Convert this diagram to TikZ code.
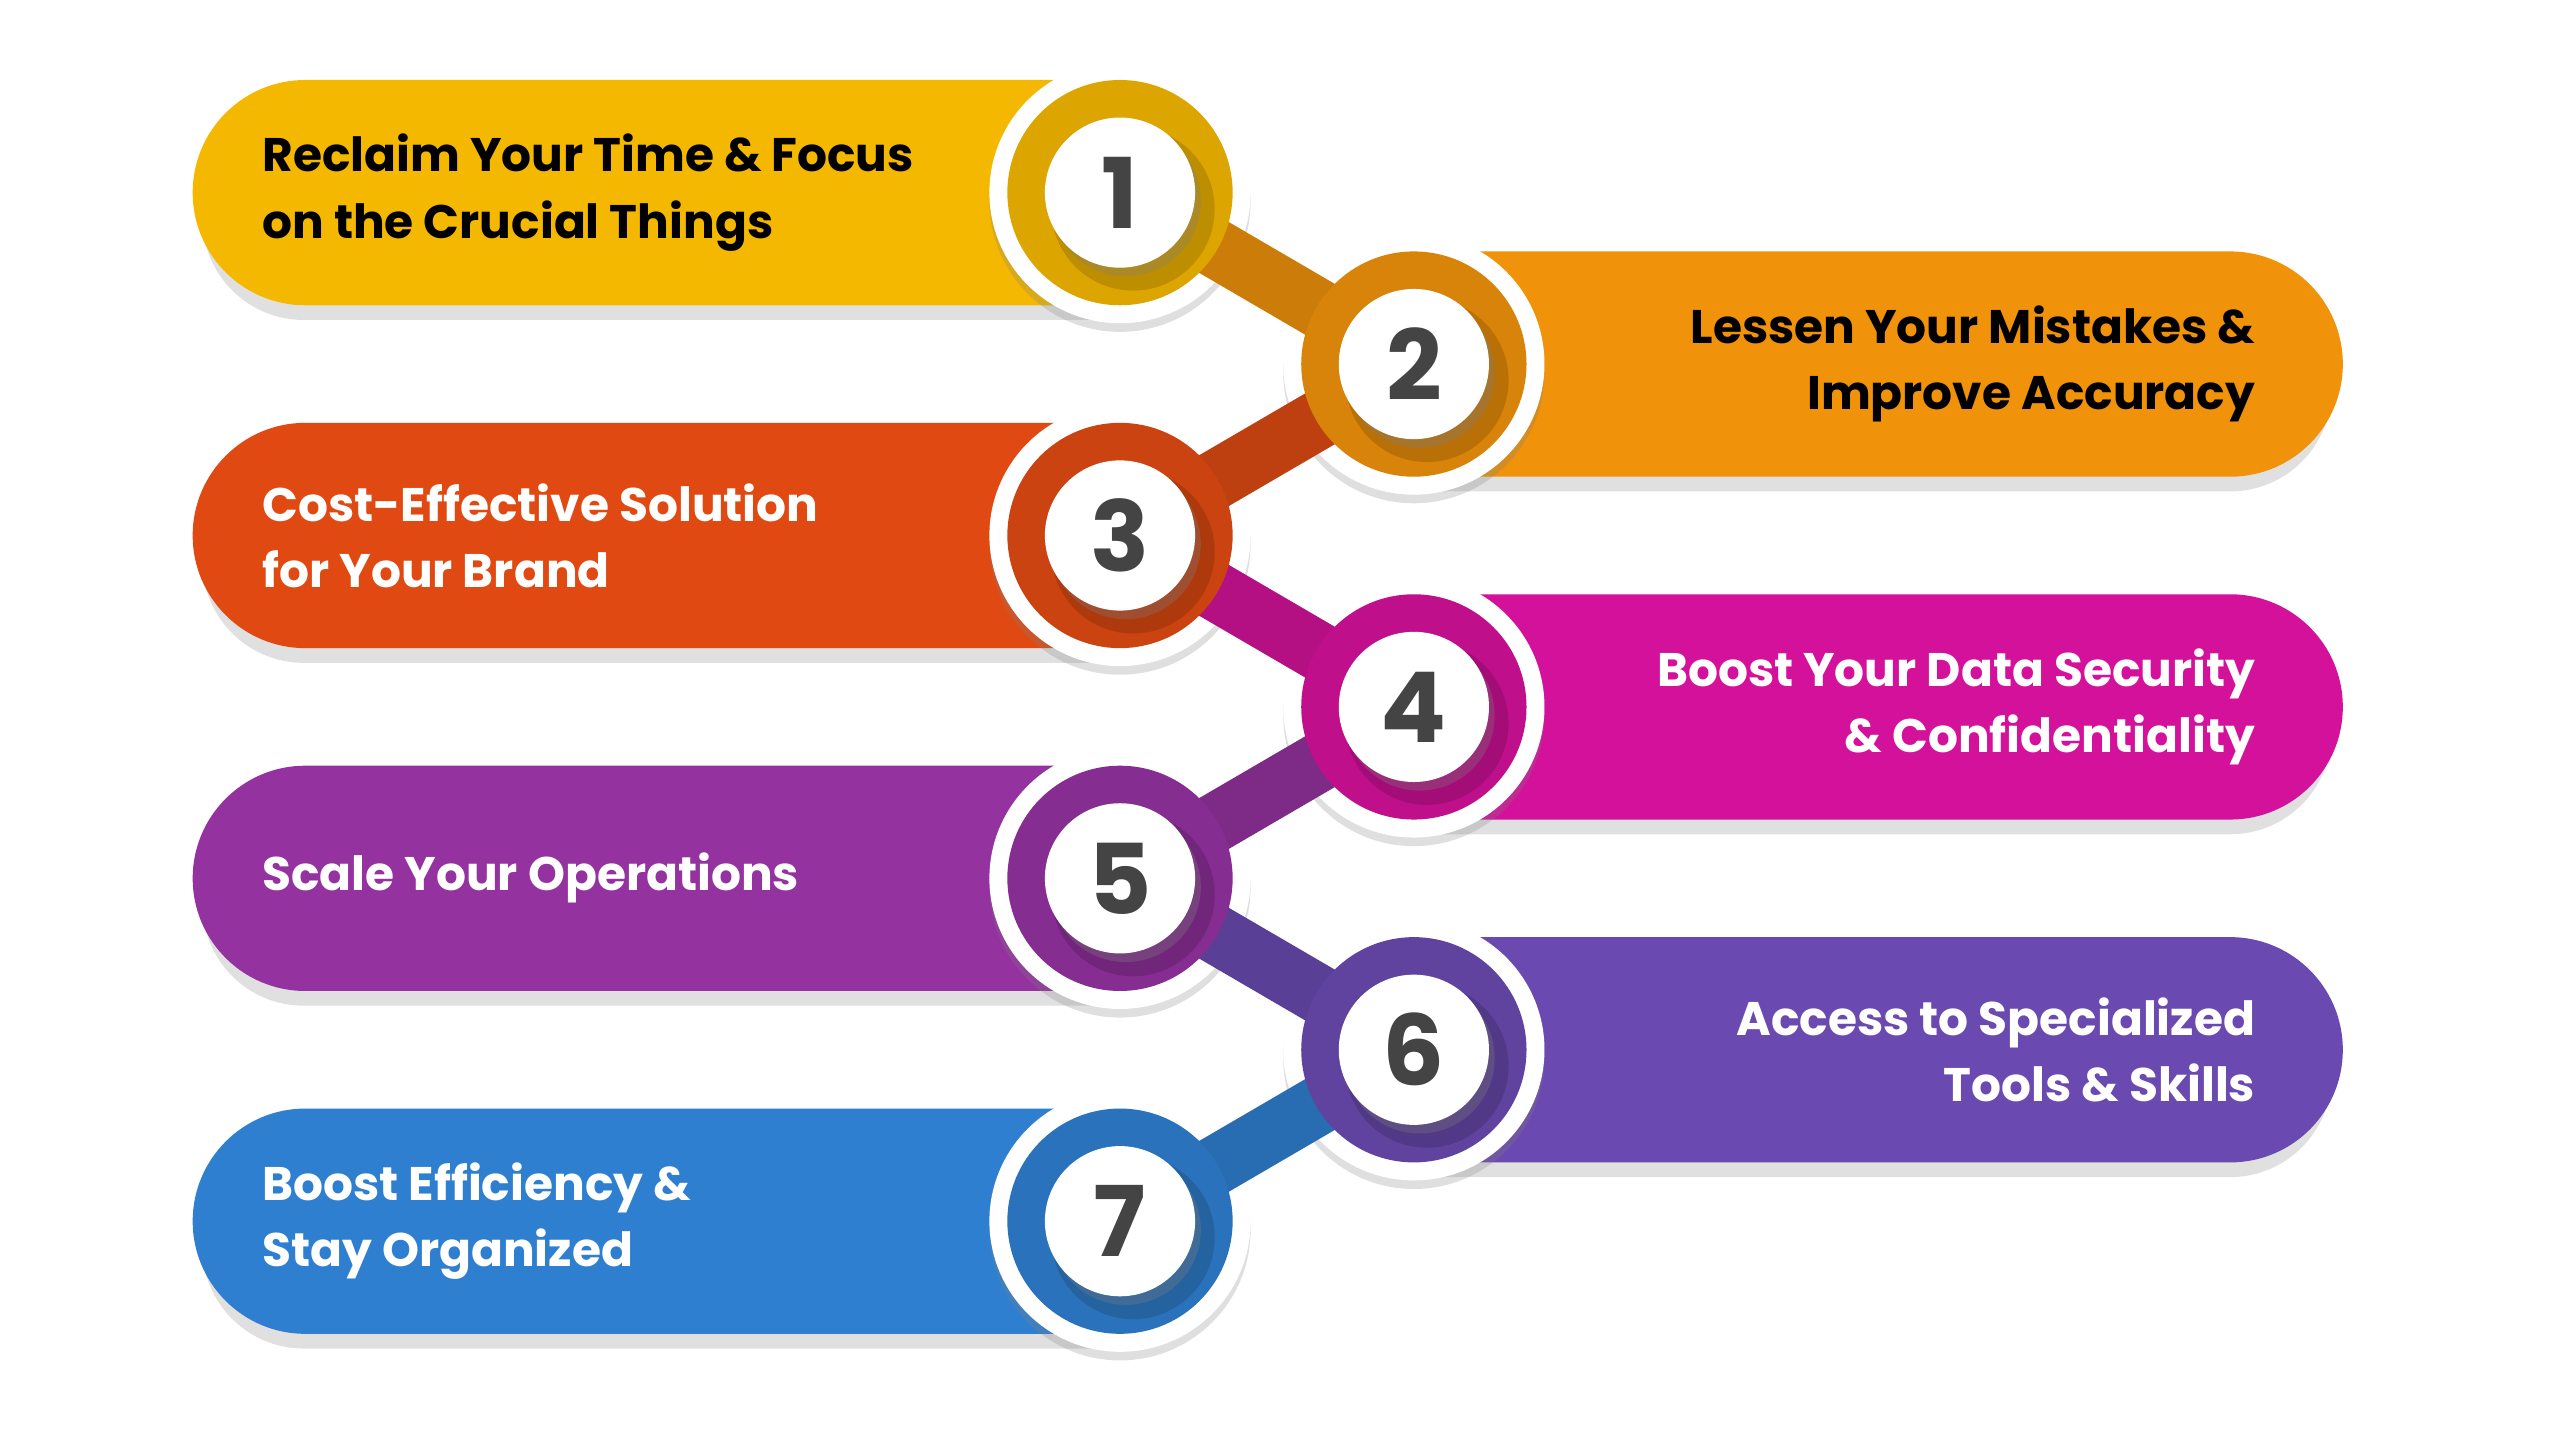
\documentclass[tikz,border=0pt]{standalone}
\usepackage{fontspec}
\setmainfont{Poppins}
\usetikzlibrary{shadows,calc}
\definecolor{bandone}{HTML}{F5B800}
\definecolor{bandtwo}{HTML}{F0920A}
\definecolor{bandthree}{HTML}{E04A12}
\definecolor{bandfour}{HTML}{D4119A}
\definecolor{bandfive}{HTML}{9432A0}
\definecolor{bandsix}{HTML}{6A4AB0}
\definecolor{bandseven}{HTML}{2F7FD0}
\definecolor{numgray}{HTML}{444444}
\tikzset{
  labeltext/.style={font=\fontsize{8.2}{11.5}\selectfont\bfseries, inner sep=0pt},
  numtext/.style={font=\fontsize{17}{17}\selectfont\bfseries, text=numgray},
  bandshadow/.style={fill=black, opacity=0.12},
}
\begin{document}
\begin{tikzpicture}[x=0.01cm,y=0.01cm]
    \useasboundingbox (0,0) rectangle (1568,882);
    % circle centres
    \foreach \n in {1,...,7}{
        \pgfmathsetmacro\yy{764-105*(\n-1)}
        \ifodd\n \coordinate (c\n) at (686,\yy); \else \coordinate (c\n) at (866,\yy); \fi
    }
    % bands
    \foreach \n/\col/\tc/\txt in {1/bandone/black/{Reclaim Your Time \& Focus\\on the Crucial Things},
        2/bandtwo/black/{Lessen Your Mistakes \&\\Improve Accuracy},
        3/bandthree/white/{Cost-Effective Solution\\for Your Brand},
        4/bandfour/white/{Boost Your Data Security\\\& Confidentiality},
        5/bandfive/white/{Scale Your Operations},
        6/bandsix/white/{Access to Specialized\\Tools \& Skills},
        7/bandseven/white/{Boost Efficiency \&\\Stay Organized}}{
        \ifodd\n
            \fill[bandshadow] ($(c\n)+(0,-78)$) -- ++(-500,0) arc[start angle=270,end angle=90,radius=62] -- ++(500,0) -- cycle;
            \fill[\col] ($(c\n)+(0,69)$) -- ++(-499,0) arc[start angle=90,end angle=270,radius=69] -- ++(499,0) -- cycle;
            \node[labeltext, text=\tc, anchor=west, align=left] (t\n) at ($(c\n)+(-526,0)$) {\txt};
        \else
            \fill[bandshadow] ($(c\n)+(0,-78)$) -- ++(500,0) arc[start angle=-90,end angle=90,radius=62] -- ++(-500,0) -- cycle;
            \fill[\col] ($(c\n)+(0,69)$) -- ++(500,0) arc[start angle=90,end angle=-90,radius=69] -- ++(-500,0) -- cycle;
            \node[labeltext, text=\tc, anchor=east, align=right] (t\n) at ($(c\n)+(516,0)$) {\txt};
        \fi
        \fill[white, drop shadow={opacity=0.25,shadow xshift=0pt,shadow yshift=-1.5pt}] (c\n) circle (80);
    }
    % connectors
    \foreach \a/\b/\col in {1/2/bandtwo,2/3/bandthree,3/4/bandfour,4/5/bandfive,5/6/bandsix,6/7/bandseven}{
        \draw[\col!85!black, line width=0.36cm] (c\a) -- (c\b);
    }
    % rings and numbers
    \foreach \n/\col in {1/bandone,2/bandtwo,3/bandthree,4/bandfour,5/bandfive,6/bandsix,7/bandseven}{
        \fill[\col!90!black] (c\n) circle (69);
        \fill[\col!65!black, opacity=0.5] ($(c\n)+(8,-10)$) circle (50);
        \fill[white, drop shadow={opacity=0.3,shadow xshift=1pt,shadow yshift=-1.5pt}] (c\n) circle (46);
        \node[numtext] (num\n) at (c\n) {\n};
    }
\end{tikzpicture}
\end{document}
